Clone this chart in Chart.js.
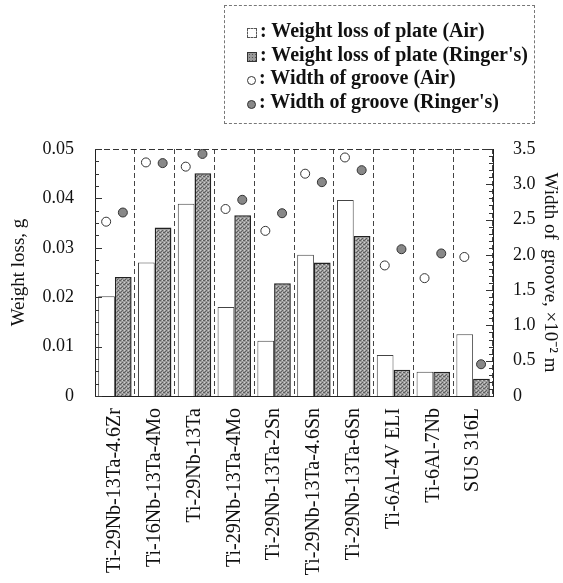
<!DOCTYPE html>
<html>
<head>
<meta charset="utf-8">
<script src="https://cdn.jsdelivr.net/npm/chart.js@4"></script>
<style>
  body { margin: 0; background: #fff; }
  #wrap { position: relative; width: 563px; height: 583px; }
  #legend {
    position: absolute; left: 224px; top: 5px; width: 311px; height: 119px;
    box-sizing: border-box; border: 1px dashed #777;
    font-family: "Liberation Serif", serif; font-size: 20px; font-weight: bold; color: #111;
    padding: 13px 0 0 22px; line-height: 23.5px;
  }
  #legend div { white-space: nowrap; }
  .sym { display: inline-block; width: 10px; height: 10px; margin-right: 3px; vertical-align: -1px; box-sizing: border-box; }
  .air { border: 1px dashed #555; background: #fff; }
  .rin { border: 1px solid #333; background: #999 radial-gradient(#555 30%, transparent 35%) 0 0 / 3px 3px; }
  .cair { border: 1px solid #333; border-radius: 50%; width: 9px; height: 9px; background: #fff; }
  .crin { border: 1px solid #333; border-radius: 50%; width: 9px; height: 9px; background: #888; }
</style>
</head>
<body>
<div id="wrap">
  <canvas id="chart" width="563" height="583"></canvas>
  <div id="legend">
    <div><span class="sym air"></span>: Weight loss of plate (Air)</div>
    <div><span class="sym rin"></span>: Weight loss of plate (Ringer's)</div>
    <div><span class="sym cair"></span>: Width of groove (Air)</div>
    <div><span class="sym crin"></span>: Width of groove (Ringer's)</div>
  </div>
</div>
<script>
var alloys = ['Ti-29Nb-13Ta-4.6Zr', 'Ti-16Nb-13Ta-4Mo', 'Ti-29Nb-13Ta', 'Ti-29Nb-13Ta-4Mo',
  'Ti-29Nb-13Ta-2Sn', 'Ti-29Nb-13Ta-4.6Sn', 'Ti-29Nb-13Ta-6Sn', 'Ti-6Al-4V ELI', 'Ti-6Al-7Nb', 'SUS 316L'];

// weight loss of plate, g
var lossAir = [0.0202, 0.0270, 0.0389, 0.0180, 0.0112, 0.0286, 0.0397, 0.0083, 0.0049, 0.0125];
var lossRinger = [0.0241, 0.0341, 0.0451, 0.0366, 0.0228, 0.0270, 0.0324, 0.0053, 0.0049, 0.0035];

// width of groove, x10^-2 m
var grooveAir = [2.47, 3.31, 3.25, 2.65, 2.34, 3.15, 3.38, 1.85, 1.67, 1.97];
var grooveRinger = [2.60, 3.30, 3.43, 2.78, 2.59, 3.03, 3.20, 2.08, 2.02, 0.45];

var serif = 'Liberation Serif';
var ink = '#111';

// stippled grey fill for Ringer's bars
var pc = document.createElement('canvas');
pc.width = 4; pc.height = 4;
var pctx = pc.getContext('2d');
pctx.fillStyle = '#9c9c9c';
pctx.fillRect(0, 0, 4, 4);
pctx.fillStyle = '#5e5e5e';
pctx.fillRect(0, 0, 1, 1); pctx.fillRect(2, 2, 1, 1); pctx.fillRect(3, 0, 1, 1); pctx.fillRect(1, 3, 1, 1);
pctx.fillStyle = '#cccccc';
pctx.fillRect(2, 0, 1, 1); pctx.fillRect(0, 2, 1, 1);
var stipple = pctx.createPattern(pc, 'repeat');

function points(vals, shift) {
  return vals.map(function (v, i) { return { x: i + shift, y: v }; });
}

var frame = {
  id: 'frame',
  afterDraw: function (chart) {
    var ctx = chart.ctx, a = chart.chartArea;
    var yl = chart.scales.y, yr = chart.scales.y2;
    ctx.save();
    ctx.strokeStyle = '#333';
    ctx.lineWidth = 1;
    ctx.setLineDash([6, 3]);
    ctx.beginPath();
    ctx.moveTo(a.left, a.top + 0.5);
    ctx.lineTo(a.right, a.top + 0.5);
    ctx.stroke();
    ctx.setLineDash([]);
    ctx.beginPath();
    for (var i = 0; i <= 20; i++) {
      var p = Math.round(yl.getPixelForValue(i * 0.0025)) + 0.5;
      var len = i % 4 === 0 ? 7 : 4;
      ctx.moveTo(a.left, p); ctx.lineTo(a.left + len, p);
    }
    for (var j = 0; j <= 35; j++) {
      var q = Math.round(yr.getPixelForValue(j * 0.1)) + 0.5;
      var l2 = j % 5 === 0 ? 7 : 4;
      ctx.moveTo(a.right, q); ctx.lineTo(a.right - l2, q);
    }
    ctx.stroke();
    ctx.restore();
  }
};

// the circles sit on a second (hidden) x axis; this Chart.js build splits the
// category width by the number of x axes, so the bar percentage is doubled
var barCat = 1.68;

new Chart(document.getElementById('chart'), {
  type: 'bar',
  data: {
    labels: alloys,
    datasets: [
      {
        label: 'Width of groove (Air)', type: 'line', showLine: false,
        data: points(grooveAir, -0.22), xAxisID: 'xp', yAxisID: 'y2',
        pointRadius: 4.5, pointBackgroundColor: '#fff', pointBorderColor: '#333', pointBorderWidth: 1, order: 1
      },
      {
        label: "Width of groove (Ringer's)", type: 'line', showLine: false,
        data: points(grooveRinger, 0.20), xAxisID: 'xp', yAxisID: 'y2',
        pointRadius: 4.5, pointBackgroundColor: '#888', pointBorderColor: '#333', pointBorderWidth: 1, order: 1
      },
      {
        label: 'Weight loss of plate (Air)', data: lossAir, xAxisID: 'x', yAxisID: 'y',
        backgroundColor: '#fff', borderColor: '#444', borderWidth: 1,
        categoryPercentage: barCat, barPercentage: 1.0, order: 2
      },
      {
        label: "Weight loss of plate (Ringer's)", data: lossRinger, xAxisID: 'x', yAxisID: 'y',
        backgroundColor: stipple, borderColor: '#222', borderWidth: 1.5,
        categoryPercentage: barCat, barPercentage: 1.0, order: 2
      }
    ]
  },
  options: {
    responsive: false,
    animation: false,
    layout: { padding: { top: 149, left: 0, right: 0, bottom: 0 } },
    plugins: { legend: { display: false }, tooltip: { enabled: false } },
    scales: {
      x: {
        afterFit: function (s) { s.height = 187; },
        grid: { offset: true, color: '#444', lineWidth: 1, drawTicks: false },
        border: { display: true, color: '#222', dash: [5, 3] },
        ticks: { color: ink, font: { family: serif, size: 20 }, minRotation: 90, maxRotation: 90, padding: 12, autoSkip: false }
      },
      xp: {
        type: 'linear', display: false, offset: false, min: -0.5, max: 9.5,
        grid: { offset: false }
      },
      y: {
        position: 'left', min: 0, max: 0.05,
        afterFit: function (s) { s.width = 95; },
        grid: { display: false },
        border: { display: true, color: '#222' },
        ticks: {
          stepSize: 0.01, color: ink, padding: 13, font: { family: serif, size: 18 },
          callback: function (v) { return v === 0 ? '0' : v.toFixed(2); }
        },
        title: {
          display: true, text: 'Weight loss, g', color: ink,
          font: { family: serif, size: 19 }, padding: { top: 8, bottom: 0 }
        }
      },
      y2: {
        position: 'right', min: 0, max: 3.5,
        afterFit: function (s) { s.width = 70; },
        grid: { display: false },
        border: { display: true, color: '#222' },
        ticks: {
          stepSize: 0.5, color: ink, padding: 12, font: { family: serif, size: 18 },
          callback: function (v) { return v === 0 ? '0' : v.toFixed(1); }
        },
        title: {
          display: true, text: 'Width of  groove, \u00d710\u207b\u00b2 m', color: ink,
          font: { family: serif, size: 19 }, padding: { top: 2, bottom: 0 }
        }
      }
    }
  },
  plugins: [frame]
});
</script>
</body>
</html>
